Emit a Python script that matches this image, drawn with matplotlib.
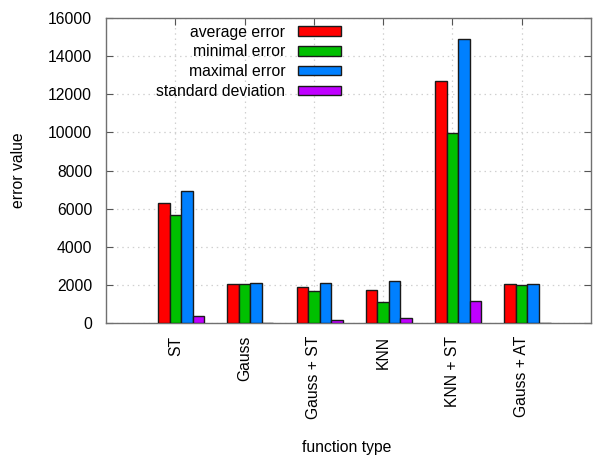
import matplotlib

matplotlib.use("Agg")

import matplotlib.pyplot as plt
import numpy as np

plt.rcParams["font.family"] = ["Liberation Sans", "DejaVu Sans"]
plt.rcParams["font.size"] = 11.3

categories = ["ST", "Gauss", "Gauss + ST", "KNN", "KNN + ST", "Gauss + AT"]
series_names = ["average error", "minimal error", "maximal error", "standard deviation"]
average_error = [6280, 2060, 1870, 1715, 12710, 2045]
minimal_error = [5665, 2060, 1680, 1100, 9955, 1975]
maximal_error = [6925, 2100, 2115, 2185, 14920, 2060]
standard_deviation = [350, 12, 160, 280, 1140, 20]
y_ticks = [0, 2000, 4000, 6000, 8000, 10000, 12000, 14000, 16000]

colors = ["#ff0000", "#00c000", "#0080ff", "#c000ff"]
all_series = [average_error, minimal_error, maximal_error, standard_deviation]

fig = plt.figure(figsize=(5.93, 4.57), dpi=100)
ax = fig.add_axes([0.1788, 0.2932, 0.8178, 0.6674])

x = np.arange(len(categories))
width = 1 / 6
for k, (name, values, color) in enumerate(zip(series_names, all_series, colors)):
    ax.bar(x + (k - 1) * width, values, width=width, color=color,
           edgecolor="#1a1a1a", linewidth=1.0, label=name, zorder=3)

ax.set_xlim(-1, len(categories))
ax.set_ylim(0, 16000)
ax.set_yticks(y_ticks)
ax.set_yticklabels([str(v) for v in y_ticks])
ax.set_xticks(x)
ax.set_xticklabels(categories, rotation=90, ha="center", va="top")

ax.grid(True, color="#d0d0d0", linestyle=(0, (1.2, 3)), linewidth=0.9, zorder=0)
ax.tick_params(direction="in", length=5, color="#555555", top=True, right=True)
ax.tick_params(axis="y", pad=10)
ax.tick_params(axis="x", pad=9)
for spine in ax.spines.values():
    spine.set_color("#707070")
    spine.set_linewidth(1.0)

ax.set_ylabel("error value", va="center")
ax.yaxis.set_label_coords(-0.181, 0.5)
ax.set_xlabel("function type", va="center")
ax.xaxis.set_label_coords(0.497, -0.407)

leg = ax.legend(loc="upper right", bbox_to_anchor=(0.4845, 0.978), frameon=False,
                markerfirst=False, handlelength=2.75, handleheight=0.55,
                handletextpad=0.8, labelspacing=0.3, borderpad=0, borderaxespad=0)
for t in leg.get_texts():
    t.set_ha("right")

fig.savefig("out.png", dpi=100)
